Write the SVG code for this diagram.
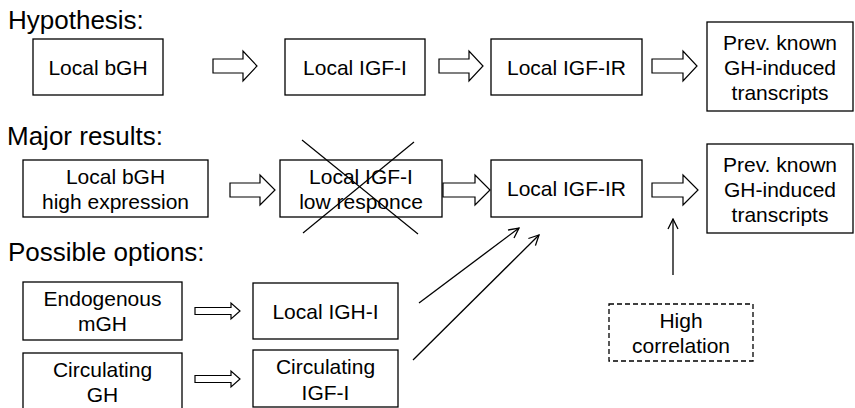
<svg xmlns="http://www.w3.org/2000/svg" width="855" height="408" viewBox="0 0 855 408">
  <defs>
    <style>
      .box { fill: #ffffff; stroke: #000000; stroke-width: 1.3; }
      .dash { fill: #ffffff; stroke: #000000; stroke-width: 1.3; stroke-dasharray: 5 3; }
      .block { fill: #ffffff; stroke: #000000; stroke-width: 1.2; stroke-linejoin: miter; }
      .thin { fill: none; stroke: #000000; stroke-width: 1.3; }
      .cross { fill: none; stroke: #000000; stroke-width: 1.2; }
      text { font-family: "Liberation Sans", Arial, sans-serif; fill: #000000; }
      .head { font-size: 26px; }
      .lbl { font-size: 21px; text-anchor: middle; }
    </style>
    <marker id="open-arrow" viewBox="0 0 12 12" refX="11" refY="6" markerWidth="12" markerHeight="12" markerUnits="userSpaceOnUse" orient="auto">
      <path d="M1,1 L11,6 L1,11" fill="none" stroke="#000000" stroke-width="1.3"/>
    </marker>
  </defs>

  <!-- section headings -->
  <text class="head" x="8" y="29">Hypothesis:</text>
  <text class="head" x="7" y="145">Major results:</text>
  <text class="head" x="8" y="261">Possible options:</text>

  <!-- hypothesis row -->
  <g id="hyp-bgh">
    <rect class="box" x="33" y="39" width="130" height="56"/>
    <text class="lbl" x="98" y="75">Local bGH</text>
  </g>
  <g id="hyp-igf1">
    <rect class="box" x="285" y="39" width="140" height="56"/>
    <text class="lbl" x="355" y="75">Local IGF-I</text>
  </g>
  <g id="hyp-igf1r">
    <rect class="box" x="491" y="39" width="151" height="56"/>
    <text class="lbl" x="566.5" y="75">Local IGF-IR</text>
  </g>
  <g id="hyp-transcripts">
    <rect class="box" x="707" y="22" width="146" height="89"/>
    <text class="lbl" x="780" y="50">Prev. known</text>
    <text class="lbl" x="780" y="75">GH-induced</text>
    <text class="lbl" x="780" y="100">transcripts</text>
  </g>

  <!-- major results row -->
  <g id="res-bgh">
    <rect class="box" x="23" y="160" width="185" height="57"/>
    <text class="lbl" x="115.5" y="183.5">Local bGH</text>
    <text class="lbl" x="115.5" y="209">high expression</text>
  </g>
  <g id="res-igf1">
    <rect class="box" x="280" y="160" width="162" height="57"/>
    <text class="lbl" x="361" y="183.5">Local IGF-I</text>
    <text class="lbl" x="361" y="209">low responce</text>
    <line class="cross" x1="302" y1="140" x2="418" y2="234"/>
    <line class="cross" x1="414" y1="142" x2="303" y2="233"/>
  </g>
  <g id="res-igf1r">
    <rect class="box" x="491" y="160" width="151" height="57"/>
    <text class="lbl" x="566.5" y="196">Local IGF-IR</text>
  </g>
  <g id="res-transcripts">
    <rect class="box" x="707" y="144" width="146" height="89"/>
    <text class="lbl" x="780" y="172">Prev. known</text>
    <text class="lbl" x="780" y="197">GH-induced</text>
    <text class="lbl" x="780" y="222">transcripts</text>
  </g>

  <!-- possible options -->
  <g id="opt-mgh">
    <rect class="box" x="23" y="282" width="159" height="58"/>
    <text class="lbl" x="102.5" y="306">Endogenous</text>
    <text class="lbl" x="102.5" y="331">mGH</text>
  </g>
  <g id="opt-igh1">
    <rect class="box" x="253" y="283" width="145" height="56"/>
    <text class="lbl" x="325.5" y="318.5">Local IGH-I</text>
  </g>
  <g id="opt-circ-gh">
    <rect class="box" x="23" y="353" width="159" height="60"/>
    <text class="lbl" x="102.5" y="376.5">Circulating</text>
    <text class="lbl" x="102.5" y="402">GH</text>
  </g>
  <g id="opt-circ-igf1">
    <rect class="box" x="253" y="350" width="145" height="57"/>
    <text class="lbl" x="325.5" y="374">Circulating</text>
    <text class="lbl" x="325.5" y="399.5">IGF-I</text>
  </g>
  <g id="opt-correlation">
    <rect class="dash" x="609" y="304" width="144" height="57"/>
    <text class="lbl" x="681" y="327.5">High</text>
    <text class="lbl" x="681" y="353">correlation</text>
  </g>

  <!-- connectors -->
  <g id="connectors">
    <!-- hollow block arrows, hypothesis row -->
    <polygon class="block" points="213,59 243,59 243,51 257,66 243,81 243,73 213,73"/>
    <polygon class="block" points="439,59 469,59 469,51 483,66 469,81 469,73 439,73"/>
    <polygon class="block" points="652,59 683,59 683,51 697,66 683,81 683,73 652,73"/>
    <!-- hollow block arrows, results row -->
    <polygon class="block" points="230,183 260,183 260,175 275,190 260,205 260,197 230,197"/>
    <polygon class="block" points="443,183 475,183 475,175 490,190 475,205 475,197 443,197"/>
    <polygon class="block" points="652,183 683,183 683,175 698,190 683,205 683,197 652,197"/>
    <!-- small hollow block arrows, options -->
    <polygon class="block" points="195,307.5 231,307.5 231,303 240,311 231,319 231,314.5 195,314.5"/>
    <polygon class="block" points="195,375.5 231,375.5 231,371 240,379 231,387 231,382.5 195,382.5"/>
    <!-- thin line arrows -->
    <line class="thin" x1="419" y1="303" x2="519" y2="228" marker-end="url(#open-arrow)"/>
    <line class="thin" x1="413" y1="360" x2="539" y2="235" marker-end="url(#open-arrow)"/>
    <line class="thin" x1="673" y1="275" x2="673" y2="219" marker-end="url(#open-arrow)"/>
  </g>
</svg>
